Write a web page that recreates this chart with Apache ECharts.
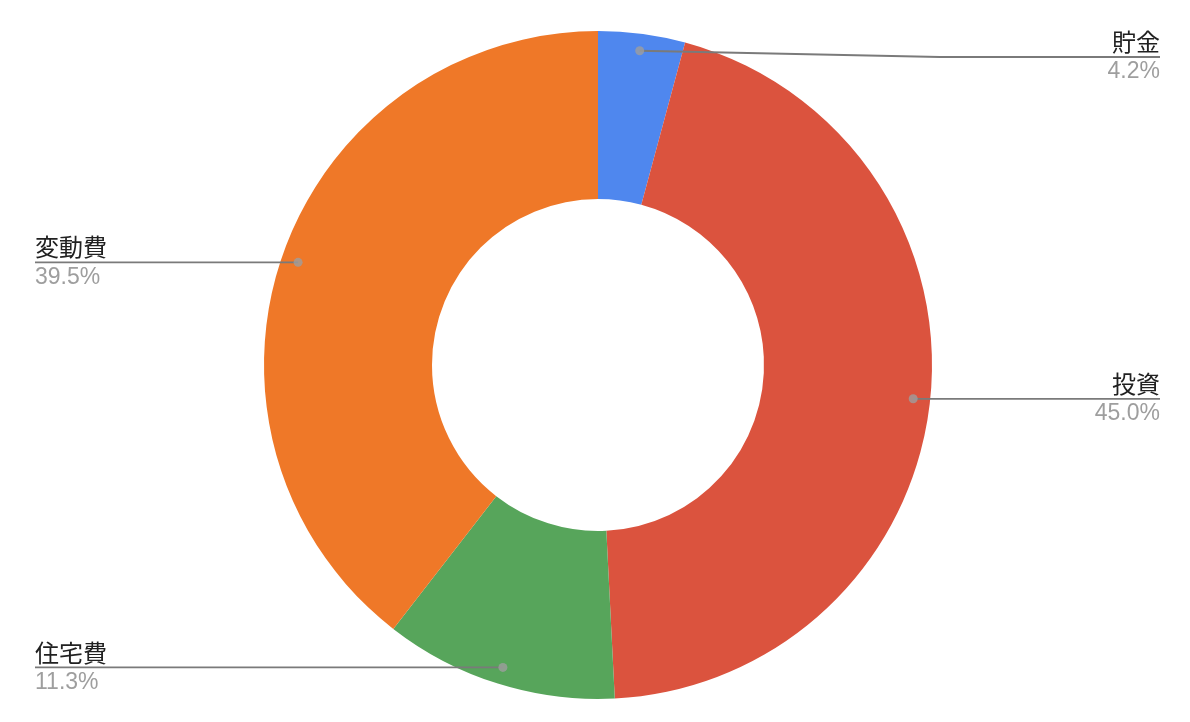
<!DOCTYPE html>
<html>
<head>
<meta charset="utf-8">
<script src="https://cdn.jsdelivr.net/npm/echarts@6/dist/echarts.min.js"></script>
<style>html,body{margin:0;padding:0;background:#fff;}#c{width:1190px;height:722px;}</style>
</head>
<body>
<div id="c"></div>
<script>
// ---- data ----
const categories = ['貯金', '投資', '住宅費', '変動費'];
const values = [4.2, 45.0, 11.3, 39.5];
// ---- styles ----
const colors = ['#4F87EE', '#DB533E', '#57A55B', '#EF7828'];

const CX = 598, CY = 365, R_IN = 166, R_OUT = 334, R_DOT = 317;
const total = values.reduce((a, b) => a + b, 0);
const mids = [];
let acc = 0;
values.forEach(v => { mids.push(acc + v / 2); acc += v; });

function dotPos(i) {
  const a = mids[i] / total * 2 * Math.PI;
  return [CX + R_DOT * Math.sin(a), CY - R_DOT * Math.cos(a)];
}

const pieData = categories.map((c, i) => ({ name: c, value: values[i] }));

const chart = echarts.init(document.getElementById('c'));
chart.setOption({
  animation: false,
  backgroundColor: '#ffffff',
  polar: { center: [CX, CY], radius: R_OUT },
  angleAxis: { type: 'value', min: 0, max: total, startAngle: 90, clockwise: true, show: false },
  radiusAxis: { type: 'value', min: 0, max: R_OUT, show: false },
  series: [
    {
      type: 'pie',
      center: [CX, CY],
      radius: [R_IN, R_OUT],
      startAngle: 90,
      clockwise: true,
      silent: true,
      color: colors,
      z: 1,
      data: pieData,
      label: { show: false },
      labelLine: { show: false }
    },
    {
      type: 'pie',
      center: [CX, CY],
      radius: [R_IN, R_OUT],
      startAngle: 90,
      clockwise: true,
      silent: true,
      z: 4,
      itemStyle: { color: 'rgba(0,0,0,0)' },
      data: pieData,
      label: {
        show: true,
        position: 'outside',
        formatter: function (p) {
          const right = dotPos(p.dataIndex)[0] > CX;
          const s = right ? 'R' : 'L';
          return '{n' + s + '|' + p.name + '}\n{p' + s + '|' + p.percent.toFixed(1) + '%}';
        },
        rich: {
          nL: { fontSize: 24, color: '#212121', lineHeight: 30, fontFamily: 'Noto Sans CJK JP', align: 'left' },
          nR: { fontSize: 24, color: '#212121', lineHeight: 30, fontFamily: 'Noto Sans CJK JP', align: 'right' },
          pL: { fontSize: 23, color: '#9E9E9E', lineHeight: 30, fontFamily: 'Liberation Sans', align: 'left' },
          pR: { fontSize: 23, color: '#9E9E9E', lineHeight: 30, fontFamily: 'Liberation Sans', align: 'right' }
        }
      },
      labelLine: {
        show: true,
        length: 10,
        length2: 10,
        smooth: false,
        lineStyle: { color: '#7A7A7A', width: 1.8, opacity: 1 }
      },
      labelLayout: function (p) {
        const i = p.dataIndex;
        const d = dotPos(i);
        const right = d[0] > CX;
        const lineY = Math.max(d[1], 57);
        const edgeX = right ? 1160 : 35;
        const kneeX = right ? Math.min(d[0] + 300, edgeX) : Math.max(d[0] - 300, edgeX);
        return {
          x: edgeX,
          y: lineY,
          align: right ? 'right' : 'left',
          verticalAlign: 'middle',
          labelLinePoints: [d, [kneeX, lineY], [edgeX, lineY]]
        };
      }
    },
    {
      type: 'scatter',
      coordinateSystem: 'polar',
      symbol: 'circle',
      symbolSize: 9,
      silent: true,
      itemStyle: { color: '#9E9E9E' },
      z: 6,
      data: mids.map(m => [R_DOT, m])
    }
  ]
});
</script>
</body>
</html>
